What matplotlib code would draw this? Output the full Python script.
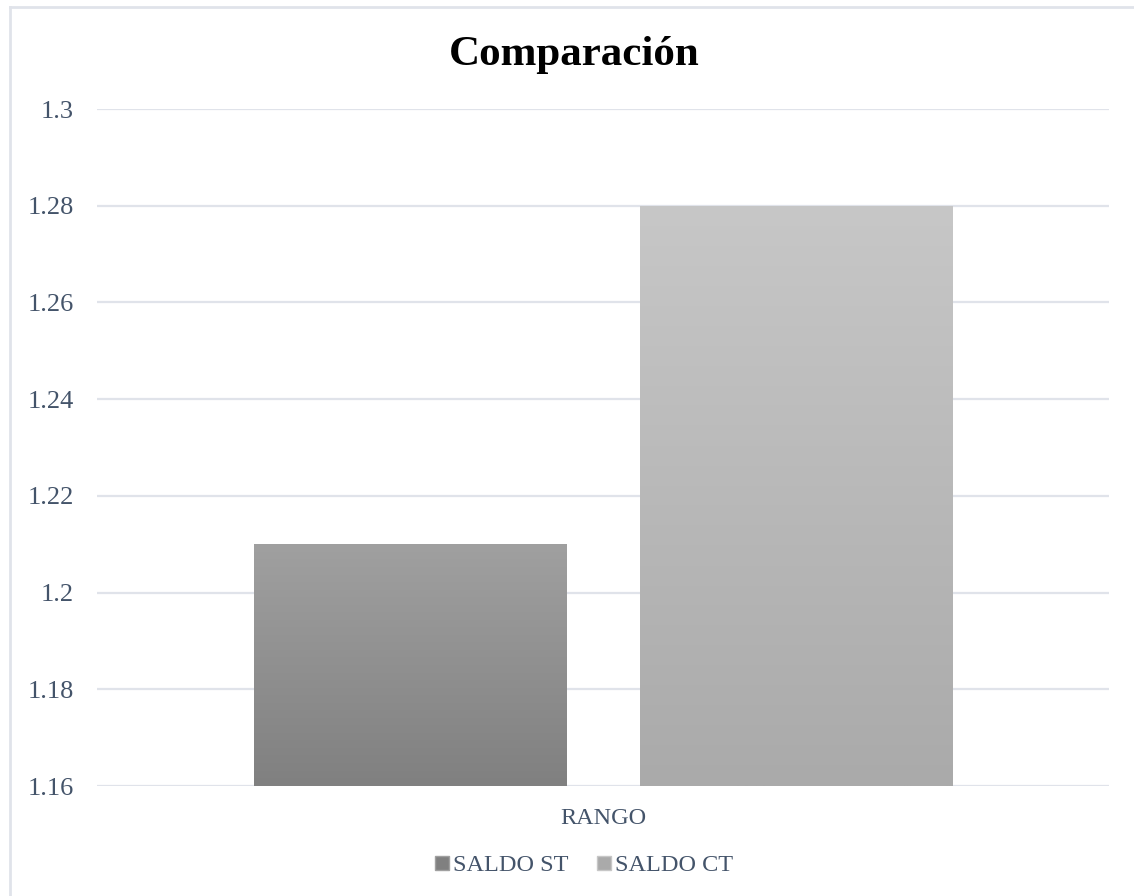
"""Comparación: SALDO ST vs SALDO CT (gradient bars, Excel look)"""
import numpy as np
import matplotlib.pyplot as plt
from matplotlib.lines import Line2D
from matplotlib.patches import Rectangle
import matplotlib.colors as mcolors

category = "RANGO"
series = ["SALDO ST", "SALDO CT"]
values = [1.21, 1.28]
yticks = [1.16, 1.18, 1.20, 1.22, 1.24, 1.26, 1.28, 1.30]
ytick_labels = ["1.16", "1.18", "1.2", "1.22", "1.24", "1.26", "1.28", "1.3"]

# gradient colours, top -> bottom
grad = [("#a0a0a0", "#808080"), ("#c7c7c7", "#aaaaaa")]
txt = "#44546a"
grid_c = "#e0e3ea"

plt.rcParams['font.family'] = ['Liberation Serif', 'DejaVu Serif']

W, H = 1134, 896
fig = plt.figure(figsize=(W / 100, H / 100), dpi=100)
ax = fig.add_axes([97 / W, 110 / H, (1109 - 97) / W, (786 - 109) / H])

ymin, ymax = 1.16, 1.30

bw = 313 / 1012
gap = 73 / 1012
xs = [-(bw + gap) / 2, (bw + gap) / 2]
for x, v, (ctop, cbot) in zip(xs, values, grad):
    cmap = mcolors.LinearSegmentedColormap.from_list("g", [cbot, ctop])
    g = np.linspace(0, 1, 256).reshape(-1, 1)
    im = ax.imshow(g, cmap=cmap, origin="lower", aspect="auto",
                   extent=(x - bw / 2, x + bw / 2, ymin, v), zorder=3)
    clip = Rectangle((x - bw / 2, ymin), bw, v - ymin, transform=ax.transData)
    im.set_clip_path(clip)
ax.set_xlim(-0.5, 0.5)
ax.set_ylim(ymin, ymax)

ax.set_yticks(yticks)
ax.set_yticklabels(ytick_labels)
ax.yaxis.grid(True, color=grid_c, linewidth=1.6)
ax.set_axisbelow(True)
for s in ax.spines.values():
    s.set_visible(False)
ax.tick_params(axis="y", length=0, pad=16.5, labelsize=19, labelcolor=txt)
ax.set_xticks([0])
ax.set_xticklabels([category])
ax.tick_params(axis="x", length=0, pad=16, labelsize=17.5, labelcolor=txt)

fig.text(574 / W, 1 - 55 / H, "Comparación", ha="center", va="center",
         fontsize=31, fontweight="bold", color="black")

# legend
handles = [Line2D([0], [0], marker="s", linestyle="", markersize=10,
                  markerfacecolor=c[1], markeredgecolor=c[0]) for c in grad]
fig.legend(handles, series, loc="center", bbox_to_anchor=(582 / W, 1 - 865 / H),
           ncol=2, frameon=False, fontsize=17.5, labelcolor=txt,
           handletextpad=0.0, columnspacing=1.0, handlelength=0.9)

# chart border (left/top visible)
fig.add_artist(Line2D([10 / W, 10 / W], [0, 1 - 7 / H], color=grid_c, linewidth=2))
fig.add_artist(Line2D([10 / W, 1], [1 - 7 / H, 1 - 7 / H], color=grid_c, linewidth=2))

fig.savefig("out.png", dpi=100)
